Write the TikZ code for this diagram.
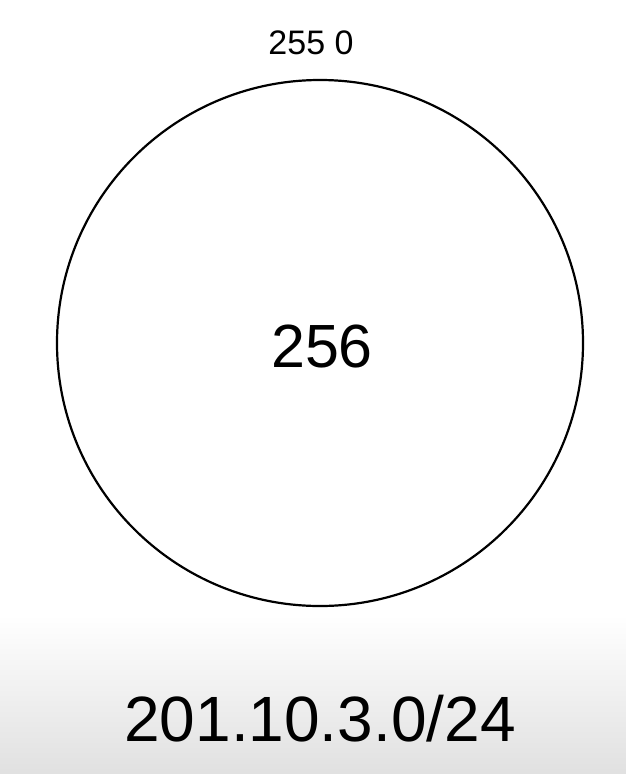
\documentclass[tikz,border=0pt]{standalone}
\usepackage{fontspec}
\setmainfont{Liberation Sans}
\begin{document}
\begin{tikzpicture}[x=1pt,y=-1pt]
    \tikzstyle{every node}+=[inner sep=0pt]
    \useasboundingbox (0,0) rectangle (626,774);
    \shade [top color=white, bottom color=black!12] (0,615) rectangle (626,774);
    \draw [black, line width=2.2pt] (320,343) circle (263);
    \draw (311,43) node (ends) {\fontsize{34}{40}\selectfont 255 0};
    \draw (322,346) node (count) {\fontsize{61}{70}\selectfont 256};
    \draw (320,719) node (net) {\fontsize{64}{74}\selectfont 201.10.3.0/24};
\end{tikzpicture}
\end{document}
